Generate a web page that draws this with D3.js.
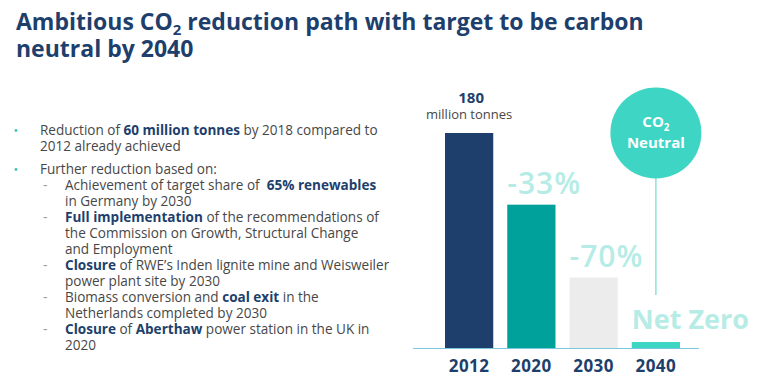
<!DOCTYPE html>
<html>
<head>
<meta charset="utf-8">
<script src="https://cdn.jsdelivr.net/npm/d3@7"></script>
<style>
  body { margin: 0; background: #fff; }
  svg { display: block; }
</style>
</head>
<body>
<svg></svg>
<script>
const width = 768, height = 388;

// chart data
const years = ["2012", "2020", "2030", "2040"];
const emissions = [180, 120, 59, 5];          // million tonnes CO2
const changeLabels = ["", "-33%", "-70%", "Net Zero"];
const barColors = ["#1e3f6c", "#00a19a", "#ececec", "#3dd6c4"];

// bullet text: level 0 = bullet, 1 = dash, 2/3 = continuation
const bulletLines = [
  [0, [["Reduction of ", 0], ["60 million tonnes", 1], [" by 2018 compared to", 0]]],
  [2, [["2012 already achieved", 0]]],
  [0, [["Further reduction based on:", 0]]],
  [1, [["Achievement of target share of  ", 0], ["65% renewables", 1]]],
  [3, [["in Germany by 2030", 0]]],
  [1, [["Full implementation", 1], [" of the recommendations of", 0]]],
  [3, [["the Commission on Growth, Structural Change", 0]]],
  [3, [["and Employment", 0]]],
  [1, [["Closure", 1], [" of RWE\u2019s Inden lignite mine and Weisweiler", 0]]],
  [3, [["power plant site by 2030", 0]]],
  [1, [["Biomass conversion and ", 0], ["coal exit", 1], [" in the", 0]]],
  [3, [["Netherlands completed by 2030", 0]]],
  [1, [["Closure", 1], [" of ", 0], ["Aberthaw", 1], [" power station in the UK in", 0]]],
  [3, [["2020", 0]]]
];

const navy = "#1e3f6c";
const grey = "#474747";
const font = "'Open Sans', sans-serif";

const svg = d3.select("svg").attr("width", width).attr("height", height);

// ---- title
function drawTitle() {
  const t = svg.append("text")
    .attr("font-family", font).attr("font-weight", 700)
    .attr("fill", navy).attr("font-size", 22);
  const l1 = t.append("tspan").attr("x", 16).attr("y", 30);
  l1.append("tspan").text("Ambitious CO");
  l1.append("tspan").attr("font-size", "0.65em").attr("dy", 5).text("2");
  l1.append("tspan").attr("dy", -5).text(" reduction path with target to be carbon");
  // fit font to the reference width
  const w = l1.node().getComputedTextLength();
  t.attr("font-size", Math.min(23, 22 * 630 / w));
  t.append("tspan").attr("x", 16).attr("y", 57).text("neutral by 2040");
}

// ---- bullets
function drawBullets() {
  const g = svg.append("g").attr("font-family", font).attr("fill", grey);
  const y0 = 135, lh = 16;
  let y = y0;
  const fs = 14;
  bulletLines.forEach((d, i) => {
    if (i === 2) y += 7;
    const lvl = d[0];
    const x = lvl === 0 || lvl === 2 ? 40 : 65;
    if (lvl === 0) {
      g.append("circle").attr("cx", 16).attr("cy", y - 4.5).attr("r", 1.4).attr("fill", "#3cc4b4");
    }
    if (lvl === 1) {
      g.append("text").attr("class", "dash").attr("x", 43).attr("y", y).attr("font-size", fs)
        .attr("fill", "#9a9a9a").text("-");
    }
    const t = g.append("text").attr("class", "bl").attr("x", x).attr("y", y).attr("font-size", fs);
    d[1].forEach(s => {
      t.append("tspan").attr("font-weight", s[1] ? 700 : 400)
        .attr("fill", s[1] ? navy : grey)
        .style("white-space", "pre")
        .text(s[0]);
    });
    y += lh;
  });
  // fit size to first line width in reference (40 -> 378)
  const first = g.select("text.bl").node().getComputedTextLength();
  const nfs = fs * 338 / first;
  g.selectAll("text").attr("font-size", nfs);
}

// ---- bar chart
function drawBars() {
  const x = d3.scaleBand().domain(years).range([445, 680]).paddingInner(0.225).paddingOuter(0);
  const y = d3.scaleLinear().domain([0, 180]).range([348, 133]);

  const data = years.map((yr, i) => ({ year: yr, value: emissions[i], label: changeLabels[i], color: barColors[i] }));

  // CO2 neutral bubble with stem
  const cx = x("2040") + x.bandwidth() / 2;
  svg.append("line").attr("x1", cx).attr("x2", cx).attr("y1", 170).attr("y2", 295)
    .attr("stroke", "#8ee3d9").attr("stroke-width", 1.5);
  svg.append("circle").attr("cx", cx).attr("cy", 133).attr("r", 45.5).attr("fill", "#3fd5c4");
  const ct = svg.append("text").attr("font-family", font).attr("font-weight", 700)
    .attr("fill", "#fff").attr("text-anchor", "middle").attr("font-size", 15);
  const l1 = ct.append("tspan").attr("x", cx).attr("y", 127);
  l1.append("tspan").text("CO");
  l1.append("tspan").attr("font-size", "0.65em").attr("dy", 4).text("2");
  ct.append("tspan").attr("x", cx).attr("y", 148).text("Neutral");

  svg.selectAll("rect.bar").data(data).enter().append("rect")
    .attr("class", "bar")
    .attr("x", d => x(d.year))
    .attr("y", d => y(d.value))
    .attr("width", x.bandwidth())
    .attr("height", d => y(0) - y(d.value))
    .attr("fill", d => d.color);

  // baseline
  svg.append("line").attr("x1", 413).attr("x2", 699).attr("y1", y(0) + 0.5).attr("y2", y(0) + 0.5)
    .attr("stroke", "#7cc6de").attr("stroke-width", 1);

  // year labels
  svg.selectAll("text.year").data(data).enter().append("text")
    .attr("class", "year")
    .attr("x", d => x(d.year) + x.bandwidth() / 2)
    .attr("y", 372)
    .attr("text-anchor", "middle")
    .attr("font-family", font).attr("font-weight", 700).attr("font-size", 17)
    .attr("fill", navy).attr("letter-spacing", 0.5)
    .text(d => d.year);

  // change labels above bars
  svg.selectAll("text.chg").data(data.filter(d => d.label)).enter().append("text")
    .attr("class", "chg")
    .attr("x", d => x(d.year))
    .attr("y", d => d.label === "Net Zero" ? 329 : y(d.value) - 11)
    .attr("font-family", font)
    .attr("font-weight", d => d.label === "Net Zero" ? 700 : 600)
    .attr("font-size", d => d.label === "Net Zero" ? 27 : 30)
    .attr("letter-spacing", d => d.label === "Net Zero" ? 0 : 1)
    .attr("fill", "#b6ece5")
    .text(d => d.label);

  // 2012 value
  const c0 = x("2012") + x.bandwidth() / 2;
  svg.append("text").attr("x", c0 + 2).attr("y", 103).attr("text-anchor", "middle")
    .attr("font-family", font).attr("font-weight", 700).attr("font-size", 15)
    .attr("fill", navy).text(emissions[0]);
  svg.append("text").attr("x", c0).attr("y", 119).attr("text-anchor", "middle")
    .attr("font-family", font).attr("font-size", 13)
    .attr("fill", grey).text("million tonnes");
}

drawTitle();
drawBullets();
drawBars();
</script>
</body>
</html>
